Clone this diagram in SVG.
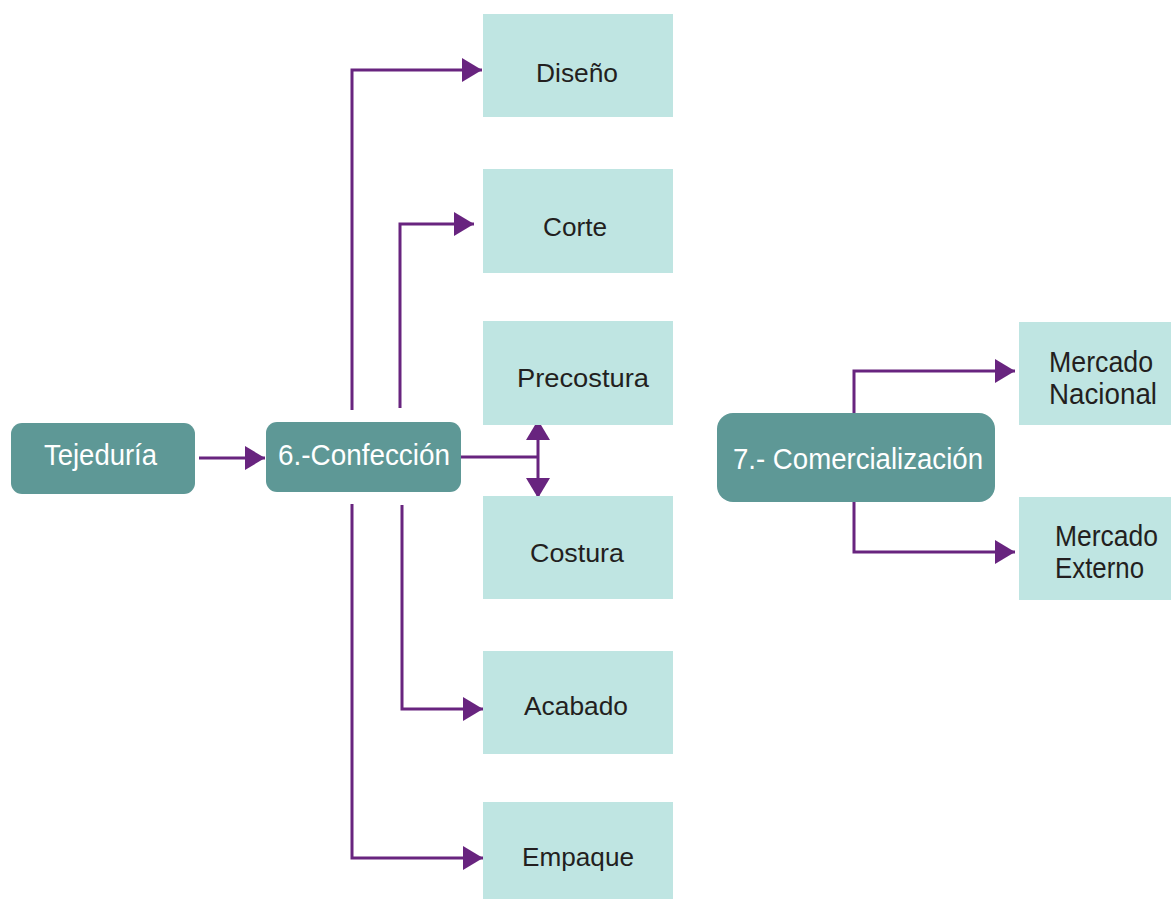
<svg xmlns="http://www.w3.org/2000/svg" width="1171" height="899" viewBox="0 0 1171 899">
<defs>
<style>
.main{fill:#5e9896}
.sub{fill:#bfe5e2}
.wt{fill:#ffffff;font-family:"Liberation Sans",Arial,sans-serif;font-size:30px}
.dt{fill:#231f20;font-family:"Liberation Sans",Arial,sans-serif;font-size:26px}
.mt{font-size:30px}
.con{fill:none;stroke:#68247f;stroke-width:3}
</style>
<marker id="ah" viewBox="0 0 20 24" refX="20" refY="12" markerWidth="20" markerHeight="24" markerUnits="userSpaceOnUse" orient="auto">
<path d="M0,0 L20,12 L0,24 Z" fill="#68247f"/>
</marker>
</defs>
<rect width="1171" height="899" fill="#ffffff"/>
<g id="connectors">
<path class="con" d="M199,458 H265" marker-end="url(#ah)"/>
<path class="con" d="M352,410 V70 H482" marker-end="url(#ah)"/>
<path class="con" d="M400,408 V224 H474" marker-end="url(#ah)"/>
<path class="con" d="M402,505 V709 H483" marker-end="url(#ah)"/>
<path class="con" d="M352,504 V858 H483" marker-end="url(#ah)"/>
<path class="con" d="M461,457 H538"/>
<path class="con" d="M538,457 V420" marker-end="url(#ah)"/>
<path class="con" d="M538,457 V498" marker-end="url(#ah)"/>
<path class="con" d="M854,414 V371 H1015" marker-end="url(#ah)"/>
<path class="con" d="M854,501 V552 H1015" marker-end="url(#ah)"/>
</g>
<g id="tejeduria">
<rect class="main" x="11" y="423" width="184" height="71" rx="11"/>
<text class="wt" x="44" y="465" textLength="113" lengthAdjust="spacingAndGlyphs">Tejeduría</text>
</g>
<g id="confeccion">
<rect class="main" x="266" y="422" width="195" height="70" rx="11"/>
<text class="wt" x="278" y="465" textLength="172" lengthAdjust="spacingAndGlyphs">6.-Confección</text>
</g>
<g id="comercializacion">
<rect class="main" x="717" y="413" width="278" height="89" rx="16"/>
<text class="wt" x="733" y="469" textLength="250" lengthAdjust="spacingAndGlyphs">7.- Comercialización</text>
</g>
<g id="diseno">
<rect class="sub" x="483" y="14" width="190" height="103"/>
<text class="dt" x="536" y="82" textLength="82" lengthAdjust="spacingAndGlyphs">Diseño</text>
</g>
<g id="corte">
<rect class="sub" x="483" y="169" width="190" height="104"/>
<text class="dt" x="543" y="236" textLength="64" lengthAdjust="spacingAndGlyphs">Corte</text>
</g>
<g id="precostura">
<rect class="sub" x="483" y="321" width="190" height="104"/>
<text class="dt" x="517" y="387" textLength="132" lengthAdjust="spacingAndGlyphs">Precostura</text>
</g>
<g id="costura">
<rect class="sub" x="483" y="496" width="190" height="103"/>
<text class="dt" x="530" y="562" textLength="94" lengthAdjust="spacingAndGlyphs">Costura</text>
</g>
<g id="acabado">
<rect class="sub" x="483" y="651" width="190" height="103"/>
<text class="dt" x="524" y="715" textLength="104" lengthAdjust="spacingAndGlyphs">Acabado</text>
</g>
<g id="empaque">
<rect class="sub" x="483" y="802" width="190" height="97"/>
<text class="dt" x="522" y="866" textLength="112" lengthAdjust="spacingAndGlyphs">Empaque</text>
</g>
<g id="mercado-nacional">
<rect class="sub" x="1019" y="322" width="152" height="103"/>
<text class="dt mt" x="1049" y="372" textLength="104" lengthAdjust="spacingAndGlyphs">Mercado</text>
<text class="dt mt" x="1049" y="404" textLength="108" lengthAdjust="spacingAndGlyphs">Nacional</text>
</g>
<g id="mercado-externo">
<rect class="sub" x="1019" y="497" width="152" height="103"/>
<text class="dt mt" x="1055" y="546" textLength="103" lengthAdjust="spacingAndGlyphs">Mercado</text>
<text class="dt mt" x="1055" y="578" textLength="89" lengthAdjust="spacingAndGlyphs">Externo</text>
</g>
</svg>
